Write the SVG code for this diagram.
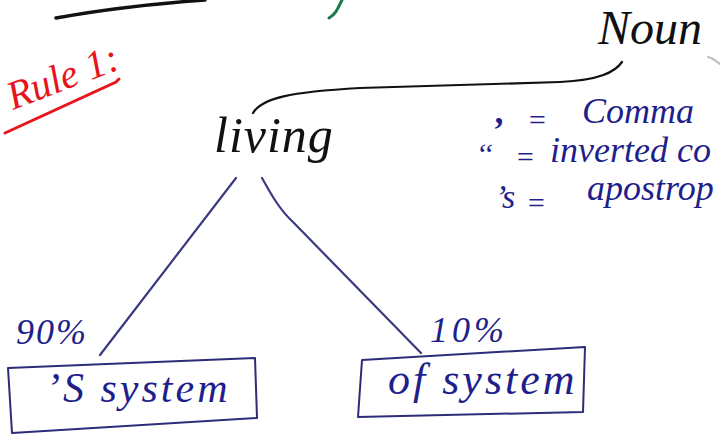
<svg xmlns="http://www.w3.org/2000/svg" width="720" height="435" viewBox="0 0 720 435">
  <style>
    .hand { font-family: "Liberation Serif", "DejaVu Serif", serif; font-style: italic; }
    .ink-blue { fill: #1f1f8c; }
    .ink-black { fill: #111; }
    .ink-red { fill: #e8141c; }
    .box { fill: none; stroke: #2c2c78; stroke-width: 2; stroke-linejoin: round; }
    .edge { fill: none; stroke: #3a3a80; stroke-width: 2.2; stroke-linecap: round; }
  </style>
  <rect width="720" height="435" fill="#ffffff"/>

  <!-- scraps at the top edge -->
  <g id="top-scraps">
    <path d="M56,18 C100,10 150,4 205,0" fill="none" stroke="#111" stroke-width="3.5" stroke-linecap="round"/>
    <path d="M342,0 C338,8 336,14 329,18" fill="none" stroke="#1a7a4a" stroke-width="3" stroke-linecap="round"/>
  </g>

  <!-- title -->
  <g id="rule-title">
    <text class="hand ink-red" x="13" y="110" font-size="40" transform="rotate(-21 13 110)">Rule 1:</text>
    <path d="M5,133 L116,82 L119,79" fill="none" stroke="#e8141c" stroke-width="3" stroke-linecap="round"/>
  </g>

  <!-- Noun -->
  <g id="noun">
    <text class="hand ink-black" x="598" y="44" font-size="48">Noun</text>
    <path d="M708,57 C713,58 716,61 720,64" fill="none" stroke="#bbb" stroke-width="2" stroke-linecap="round"/>
  </g>

  <!-- connectors -->
  <g id="connectors">
    <path d="M253,113 C262,98 290,92 360,88 L560,82 C600,80 615,72 622,62" fill="none" stroke="#111" stroke-width="2.2" stroke-linecap="round"/>
    <path class="edge" d="M236,178 L100,355"/>
    <path class="edge" d="M262,178 C272,196 280,210 293,222 L421,353"/>
  </g>

  <!-- root node -->
  <g id="living">
    <text class="hand ink-black" x="214" y="152" font-size="50" letter-spacing="1">living</text>
  </g>

  <!-- legend -->
  <g id="legend">
    <text class="hand ink-blue" x="496" y="123" font-size="36" font-weight="bold">,</text>
    <text class="hand ink-blue" x="527" y="130" font-size="30">=</text>
    <text class="hand ink-blue" x="582" y="123" font-size="36">Comma</text>
    <text class="hand ink-blue" x="476" y="164" font-size="30">‘‘</text>
    <text class="hand ink-blue" x="515" y="167" font-size="30">=</text>
    <text class="hand ink-blue" x="550" y="162" font-size="36">inverted co</text>
    <text class="hand ink-blue" x="495" y="208" font-size="34">’s</text>
    <text class="hand ink-blue" x="526" y="213" font-size="30">=</text>
    <text class="hand ink-blue" x="587" y="200" font-size="36">apostrop</text>
  </g>

  <!-- percentages -->
  <g id="pct-90">
    <text class="hand ink-blue" x="16" y="344" font-size="36" letter-spacing="2">90%</text>
  </g>
  <g id="pct-10">
    <text class="hand ink-blue" x="430" y="342" font-size="36" letter-spacing="4">10%</text>
  </g>

  <!-- leaf nodes -->
  <g id="s-system">
    <path class="box" d="M8,368 L255,358 L257,418 L12,433 Z"/>
    <text class="hand ink-blue" x="46" y="402" font-size="42" letter-spacing="3">’S system</text>
  </g>
  <g id="of-system">
    <path class="box" d="M362,360 L585,347 L583,412 L358,417 Z"/>
    <text class="hand ink-blue" x="388" y="394" font-size="44" letter-spacing="3">of system</text>
  </g>
</svg>
